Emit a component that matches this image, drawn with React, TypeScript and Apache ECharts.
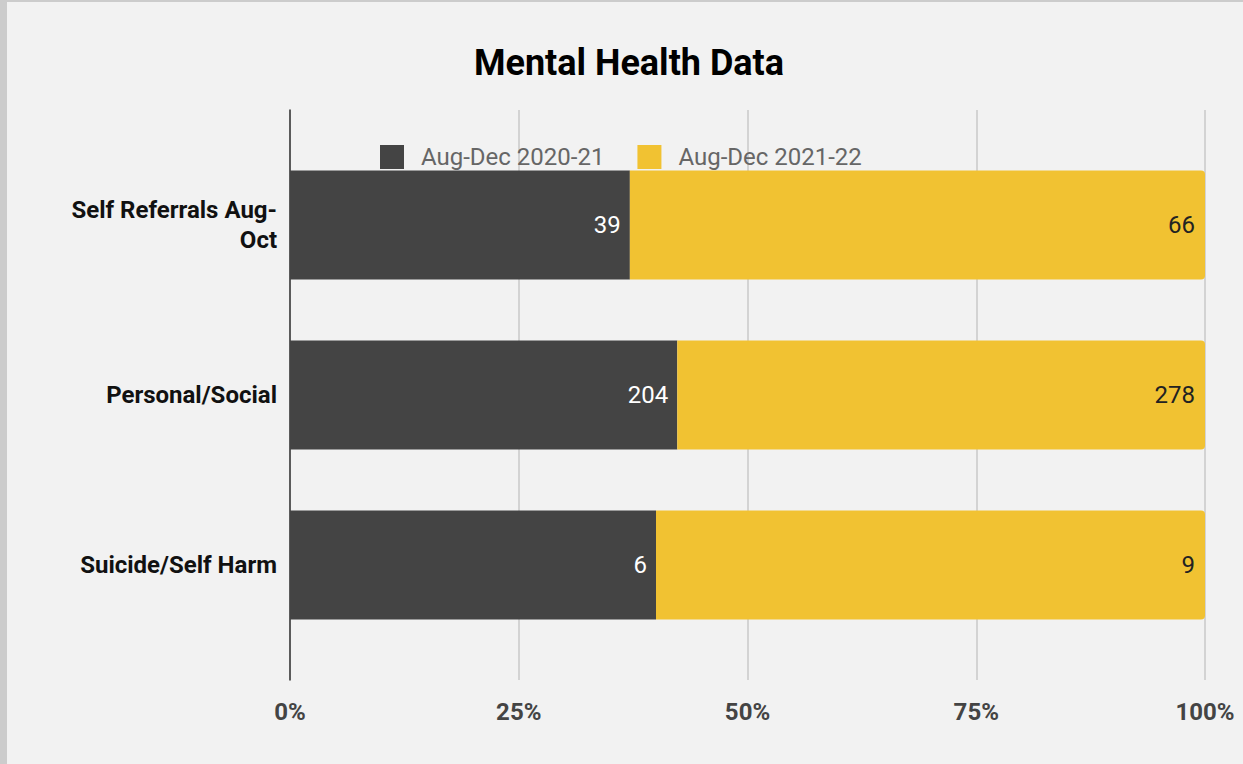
import React, { useEffect, useRef } from "react";
import * as echarts from "echarts";

const categories = ["Self Referrals Aug-\nOct", "Personal/Social", "Suicide/Self Harm"];
const series2021 = [39, 204, 6];
const series2122 = [66, 278, 9];
const seriesNames = ["Aug-Dec 2020-21", "Aug-Dec 2021-22"];
const tickLabels = ["0%", "25%", "50%", "75%", "100%"];

export default function App() {
  const ref = useRef<HTMLDivElement>(null);
  useEffect(() => {
    if (!ref.current) return;
    const chart = echarts.init(ref.current, null, { renderer: "svg" });
    const totals = series2021.map((v, i) => v + series2122[i]);
    const pct1 = series2021.map((v, i) => (v / totals[i]) * 100);
    const pct2 = series2122.map((v, i) => (v / totals[i]) * 100);
    const font = "Roboto, 'Noto Sans', sans-serif";
    chart.setOption({
      animation: false,
      backgroundColor: "#f2f2f2",
      title: {
        text: "Mental Health Data",
        left: 624,
        textAlign: "center",
        top: 40,
        textStyle: { fontFamily: font, fontSize: 36, fontWeight: "bold", color: "#000" },
      },
      legend: {
        left: 375,
        top: 140,
        icon: "rect",
        itemWidth: 24,
        itemHeight: 24,
        itemGap: 33,
        textStyle: { fontFamily: font, fontSize: 24, color: "#666", padding: [0, 0, 0, 12] },
        data: seriesNames,
        itemStyle: { borderRadius: 2 },
      },
      graphic: [
        { type: "rect", shape: { x: 0, y: 0, width: 7, height: 764 }, style: { fill: "#cccccc" }, z: 100 },
        { type: "rect", shape: { x: 0, y: 0, width: 1243, height: 2 }, style: { fill: "#cccccc" }, z: 100 },
      ],
      grid: [
        { left: 290, right: 38, top: 110, height: 570 },
        { left: 290, right: 38, top: 140, height: 510 },
      ],
      xAxis: [
        {
          gridIndex: 0,
          type: "value",
          min: 0,
          max: 100,
          interval: 25,
          axisLine: { show: false },
          axisTick: { show: false },
          splitLine: { show: true, lineStyle: { color: "#c8c8c8", width: 1.5 } },
          axisLabel: {
            margin: 20,
            fontFamily: font,
            fontSize: 24,
            fontWeight: "bold",
            color: "#444",
            formatter: (v: number) => tickLabels[Math.round(v / 25)],
          },
        },
        {
          gridIndex: 1,
          type: "value",
          min: 0,
          max: 100,
          show: false,
          splitLine: { show: false },
        },
      ],
      yAxis: [
        {
          gridIndex: 0,
          type: "category",
          data: [""],
          axisLine: { show: true, lineStyle: { color: "#333", width: 1.5 } },
          axisTick: { show: false },
          axisLabel: { show: false },
        },
        {
          gridIndex: 1,
          type: "category",
          data: categories,
          inverse: true,
          axisLine: { show: false },
          axisTick: { show: false },
          axisLabel: {
            margin: 13,
            fontFamily: font,
            fontSize: 24,
            fontWeight: "bold",
            color: "#111",
            lineHeight: 30,
            align: "right",
          },
        },
      ],
      series: [
        {
          name: seriesNames[0],
          type: "bar",
          stack: "total",
          xAxisIndex: 1,
          yAxisIndex: 1,
          barWidth: "64%",
          data: pct1,
          itemStyle: { color: "#444444" },
          label: {
            show: true,
            position: "insideRight",
            distance: 9,
            fontFamily: font,
            fontSize: 24,
            color: "#ffffff",
            formatter: (p: any) => String(series2021[p.dataIndex]),
          },
        },
        {
          name: seriesNames[1],
          type: "bar",
          stack: "total",
          xAxisIndex: 1,
          yAxisIndex: 1,
          data: pct2,
          itemStyle: { color: "#f1c232", borderRadius: [0, 4, 4, 0] },
          label: {
            show: true,
            position: "insideRight",
            distance: 10,
            fontFamily: font,
            fontSize: 24,
            color: "#222",
            formatter: (p: any) => String(series2122[p.dataIndex]),
          },
        },
      ],
    });
    return () => chart.dispose();
  }, []);
  return (
    <div
      ref={ref}
      style={{ position: "fixed", left: 0, top: 0, width: 1243, height: 764 }}
    />
  );
}
